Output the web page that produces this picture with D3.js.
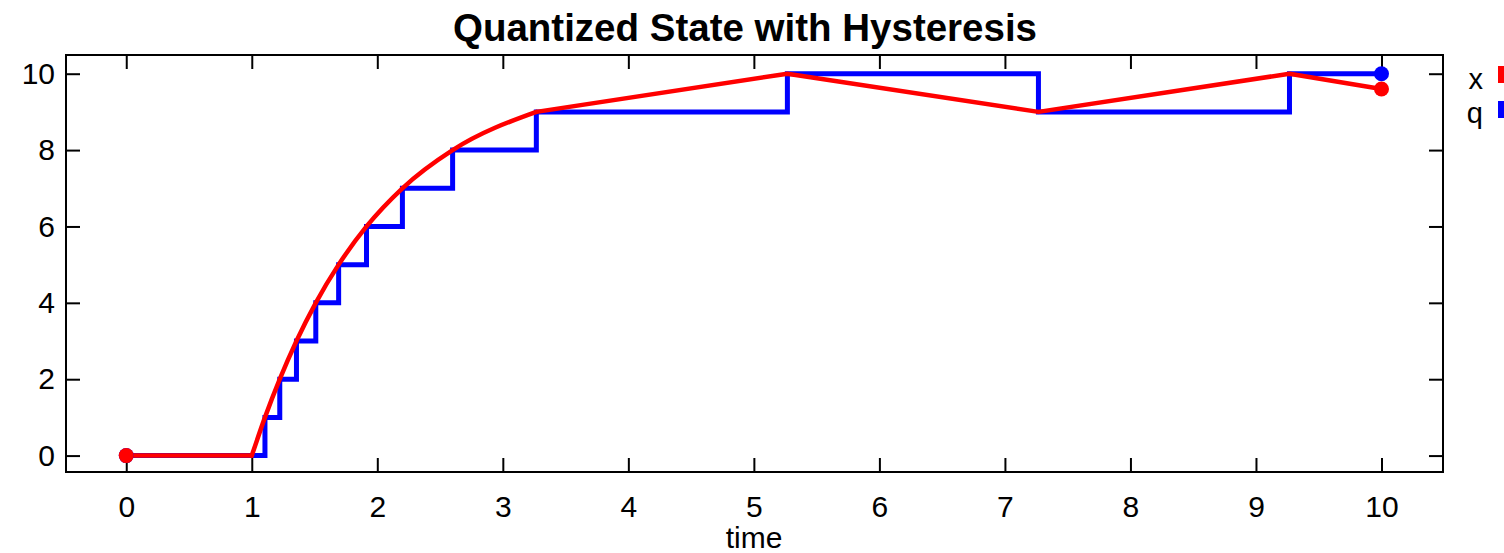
<!DOCTYPE html>
<html>
<head>
<meta charset="utf-8">
<script src="https://cdn.jsdelivr.net/npm/d3@7"></script>
<style>
  body { margin: 0; background: #fff; }
  svg text { font-family: "Liberation Sans", Arial, Helvetica, sans-serif; fill: #000; }
</style>
</head>
<body>
<div id="chart"></div>
<script>
// state x: breakpoints of the trajectory (rise from t=1 to t=3.267 is smooth)
const xTime = [0, 1, 1.105, 1.223, 1.356, 1.51, 1.692, 1.914, 2.2, 2.6, 3.267, 5.267, 7.267, 9.267, 10];
const xValue = [0, 0, 1, 2, 3, 4, 5, 6, 7, 8, 9, 10, 9, 10, 9.6];

// quantized state q: value held from each time until the next
const qTime = [0, 1.105, 1.223, 1.356, 1.51, 1.692, 1.914, 2.2, 2.6, 3.267, 5.267, 7.267, 9.267, 10];
const qValue = [0, 1, 2, 3, 4, 5, 6, 7, 8, 9, 10, 9, 10, 10];

const xTicks = [0, 1, 2, 3, 4, 5, 6, 7, 8, 9, 10];
const yTicks = [0, 2, 4, 6, 8, 10];
const seriesNames = ["x", "q"];
const seriesColors = ["#ff0000", "#0000ff"];

const width = 1504, height = 553;
const frame = { left: 66, right: 1443, top: 55, bottom: 472 };

const svg = d3.select("#chart").append("svg")
    .attr("width", width)
    .attr("height", height);

const x = d3.scaleLinear().domain([-0.48, 10.49]).range([frame.left, frame.right]);
const y = d3.scaleLinear().domain([-0.43, 10.49]).range([frame.bottom, frame.top]);

// title
svg.append("text")
    .attr("x", 745)
    .attr("y", 41)
    .attr("text-anchor", "middle")
    .style("font-size", "38.5px")
    .style("font-weight", "bold")
    .text("Quantized State with Hysteresis");

// axes with inward ticks, mirrored on the opposite side
const tickLen = 14;
const bottomAxis = d3.axisBottom(x).tickValues(xTicks).tickSize(-tickLen).tickPadding(24).tickFormat(d3.format("d"));
const topAxis = d3.axisTop(x).tickValues(xTicks).tickSize(-tickLen).tickFormat("");
const leftAxis = d3.axisLeft(y).tickValues(yTicks).tickSize(-tickLen).tickPadding(11).tickFormat(d3.format("d"));
const rightAxis = d3.axisRight(y).tickValues(yTicks).tickSize(-tickLen).tickFormat("");

function styleAxis(g) {
    g.select(".domain").remove();
    g.selectAll(".tick line").attr("stroke", "#000").attr("stroke-width", 2);
    g.selectAll(".tick text").style("font-size", "30px").attr("fill", "#000");
}

svg.append("g").attr("transform", `translate(0,${frame.bottom})`).call(bottomAxis).call(styleAxis);
svg.append("g").attr("transform", `translate(0,${frame.top})`).call(topAxis).call(styleAxis);
svg.append("g").attr("transform", `translate(${frame.left},0)`).call(leftAxis).call(styleAxis);
svg.append("g").attr("transform", `translate(${frame.right},0)`).call(rightAxis).call(styleAxis);

svg.append("rect")
    .attr("x", frame.left)
    .attr("y", frame.top)
    .attr("width", frame.right - frame.left)
    .attr("height", frame.bottom - frame.top)
    .attr("fill", "none")
    .attr("stroke", "#000")
    .attr("stroke-width", 2);

// x label
svg.append("text")
    .attr("x", 754)
    .attr("y", 548)
    .attr("text-anchor", "middle")
    .style("font-size", "30px")
    .text("time");

const qPoints = qTime.map((t, i) => [t, qValue[i]]);
const xPoints = xTime.map((t, i) => [t, xValue[i]]);

const stepLine = d3.line().x(d => x(d[0])).y(d => y(d[1])).curve(d3.curveStepAfter);
const plainLine = d3.line().x(d => x(d[0])).y(d => y(d[1]));
const smoothLine = d3.line().x(d => x(d[0])).y(d => y(d[1])).curve(d3.curveMonotoneX);

svg.append("path")
    .attr("d", stepLine(qPoints))
    .attr("fill", "none")
    .attr("stroke", seriesColors[1])
    .attr("stroke-width", 5);

// x: flat start, smooth rise up to 9, then straight segments
const riseEnd = xTime.indexOf(3.267);
const xParts = [
    { pts: xPoints.slice(0, 2), gen: plainLine },
    { pts: xPoints.slice(1, riseEnd + 1), gen: smoothLine },
    { pts: xPoints.slice(riseEnd), gen: plainLine }
];

svg.selectAll("path.xpart")
    .data(xParts)
    .enter().append("path")
    .attr("class", "xpart")
    .attr("d", d => d.gen(d.pts))
    .attr("fill", "none")
    .attr("stroke", seriesColors[0])
    .attr("stroke-width", 4.5)
    .attr("stroke-linejoin", "round")
    .attr("stroke-linecap", "round");

// start and end markers
const qEnds = [qPoints[0], qPoints[qPoints.length - 1]];
const xEnds = [xPoints[0], xPoints[xPoints.length - 1]];

svg.selectAll("circle.q")
    .data(qEnds)
    .enter().append("circle")
    .attr("class", "q")
    .attr("cx", d => x(d[0]))
    .attr("cy", d => y(d[1]))
    .attr("r", 7.5)
    .attr("fill", seriesColors[1]);

svg.selectAll("circle.x")
    .data(xEnds)
    .enter().append("circle")
    .attr("class", "x")
    .attr("cx", d => x(d[0]))
    .attr("cy", d => y(d[1]))
    .attr("r", 7.5)
    .attr("fill", seriesColors[0]);

// legend, running off the right edge
const legend = svg.selectAll("g.legend")
    .data(seriesNames)
    .enter().append("g")
    .attr("class", "legend")
    .attr("transform", (d, i) => `translate(0,${74 + i * 35})`);

legend.append("text")
    .attr("x", 1483)
    .attr("y", (d, i) => i === 0 ? 15 : 14)
    .attr("text-anchor", "end")
    .style("font-size", "29px")
    .text(d => d);

legend.append("rect")
    .attr("x", 1498)
    .attr("y", -8)
    .attr("width", 12)
    .attr("height", 17)
    .attr("fill", (d, i) => seriesColors[i]);
</script>
</body>
</html>
